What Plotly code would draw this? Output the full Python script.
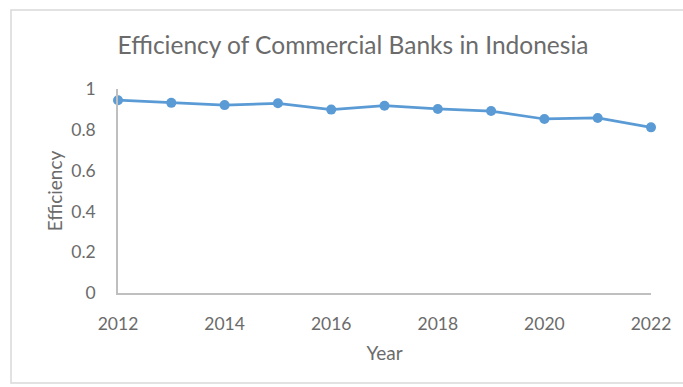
import plotly.graph_objects as go

years = [2012, 2013, 2014, 2015, 2016, 2017, 2018, 2019, 2020, 2021, 2022]
efficiency = [0.945, 0.932, 0.921, 0.930, 0.899, 0.918, 0.902, 0.892, 0.853, 0.858, 0.812]
x_ticks = [2012, 2014, 2016, 2018, 2020, 2022]
y_ticks = [0, 0.2, 0.4, 0.6, 0.8, 1]
y_tick_text = ["0", "0.2", "0.4", "0.6", "0.8", "1"]

W, H = 683, 387
L, R, T, B = 118, 651, 89, 293

def px(x):
    return (x - L) / (R - L)

def py(y):
    return (B - y) / (B - T)

FONT = "Lato"
TXT = "#6b6b6b"
BLUE = "#5B9BD5"

fig = go.Figure()
fig.add_trace(go.Scatter(
    x=years, y=efficiency, mode="lines+markers",
    line=dict(color=BLUE, width=2.75),
    marker=dict(color=BLUE, size=10),
    showlegend=False, cliponaxis=False,
))

fig.update_layout(
    width=W, height=H,
    margin=dict(l=L, r=W - R, t=T, b=H - B, pad=0),
    paper_bgcolor="white", plot_bgcolor="white",
    font=dict(family=FONT, color=TXT, size=17),
    title=dict(text="Efficiency of Commercial Banks in Indonesia",
               x=px(353), xref="paper", xanchor="center",
               y=1 - 45 / H, yanchor="middle",
               font=dict(size=24.5, color=TXT, family=FONT)),
    xaxis=dict(range=[2012, 2022], tickvals=x_ticks, showgrid=False,
               showline=True, linecolor="#BFBFBF", linewidth=1.5,
               zeroline=False, ticks="", ticklabelstandoff=14,
               tickfont=dict(size=17.5, color=TXT),
               title=dict(text="Year", font=dict(size=19, color=TXT), standoff=14)),
    yaxis=dict(range=[0, 1], tickvals=y_ticks, ticktext=y_tick_text, showgrid=False,
               showline=True, linecolor="#BFBFBF", linewidth=1.5,
               zeroline=False, ticks="", ticklabelstandoff=17,
               tickfont=dict(size=17.5, color=TXT),
               title=dict(text="Efficiency", font=dict(size=19, color=TXT), standoff=4)),
    shapes=[dict(type="rect", xref="paper", yref="paper",
                 x0=px(11), x1=px(690), y0=py(383), y1=py(10),
                 line=dict(color="#D9D9D9", width=1.5), fillcolor="rgba(0,0,0,0)",
                 layer="below")],
)

fig.write_html("out.html")
